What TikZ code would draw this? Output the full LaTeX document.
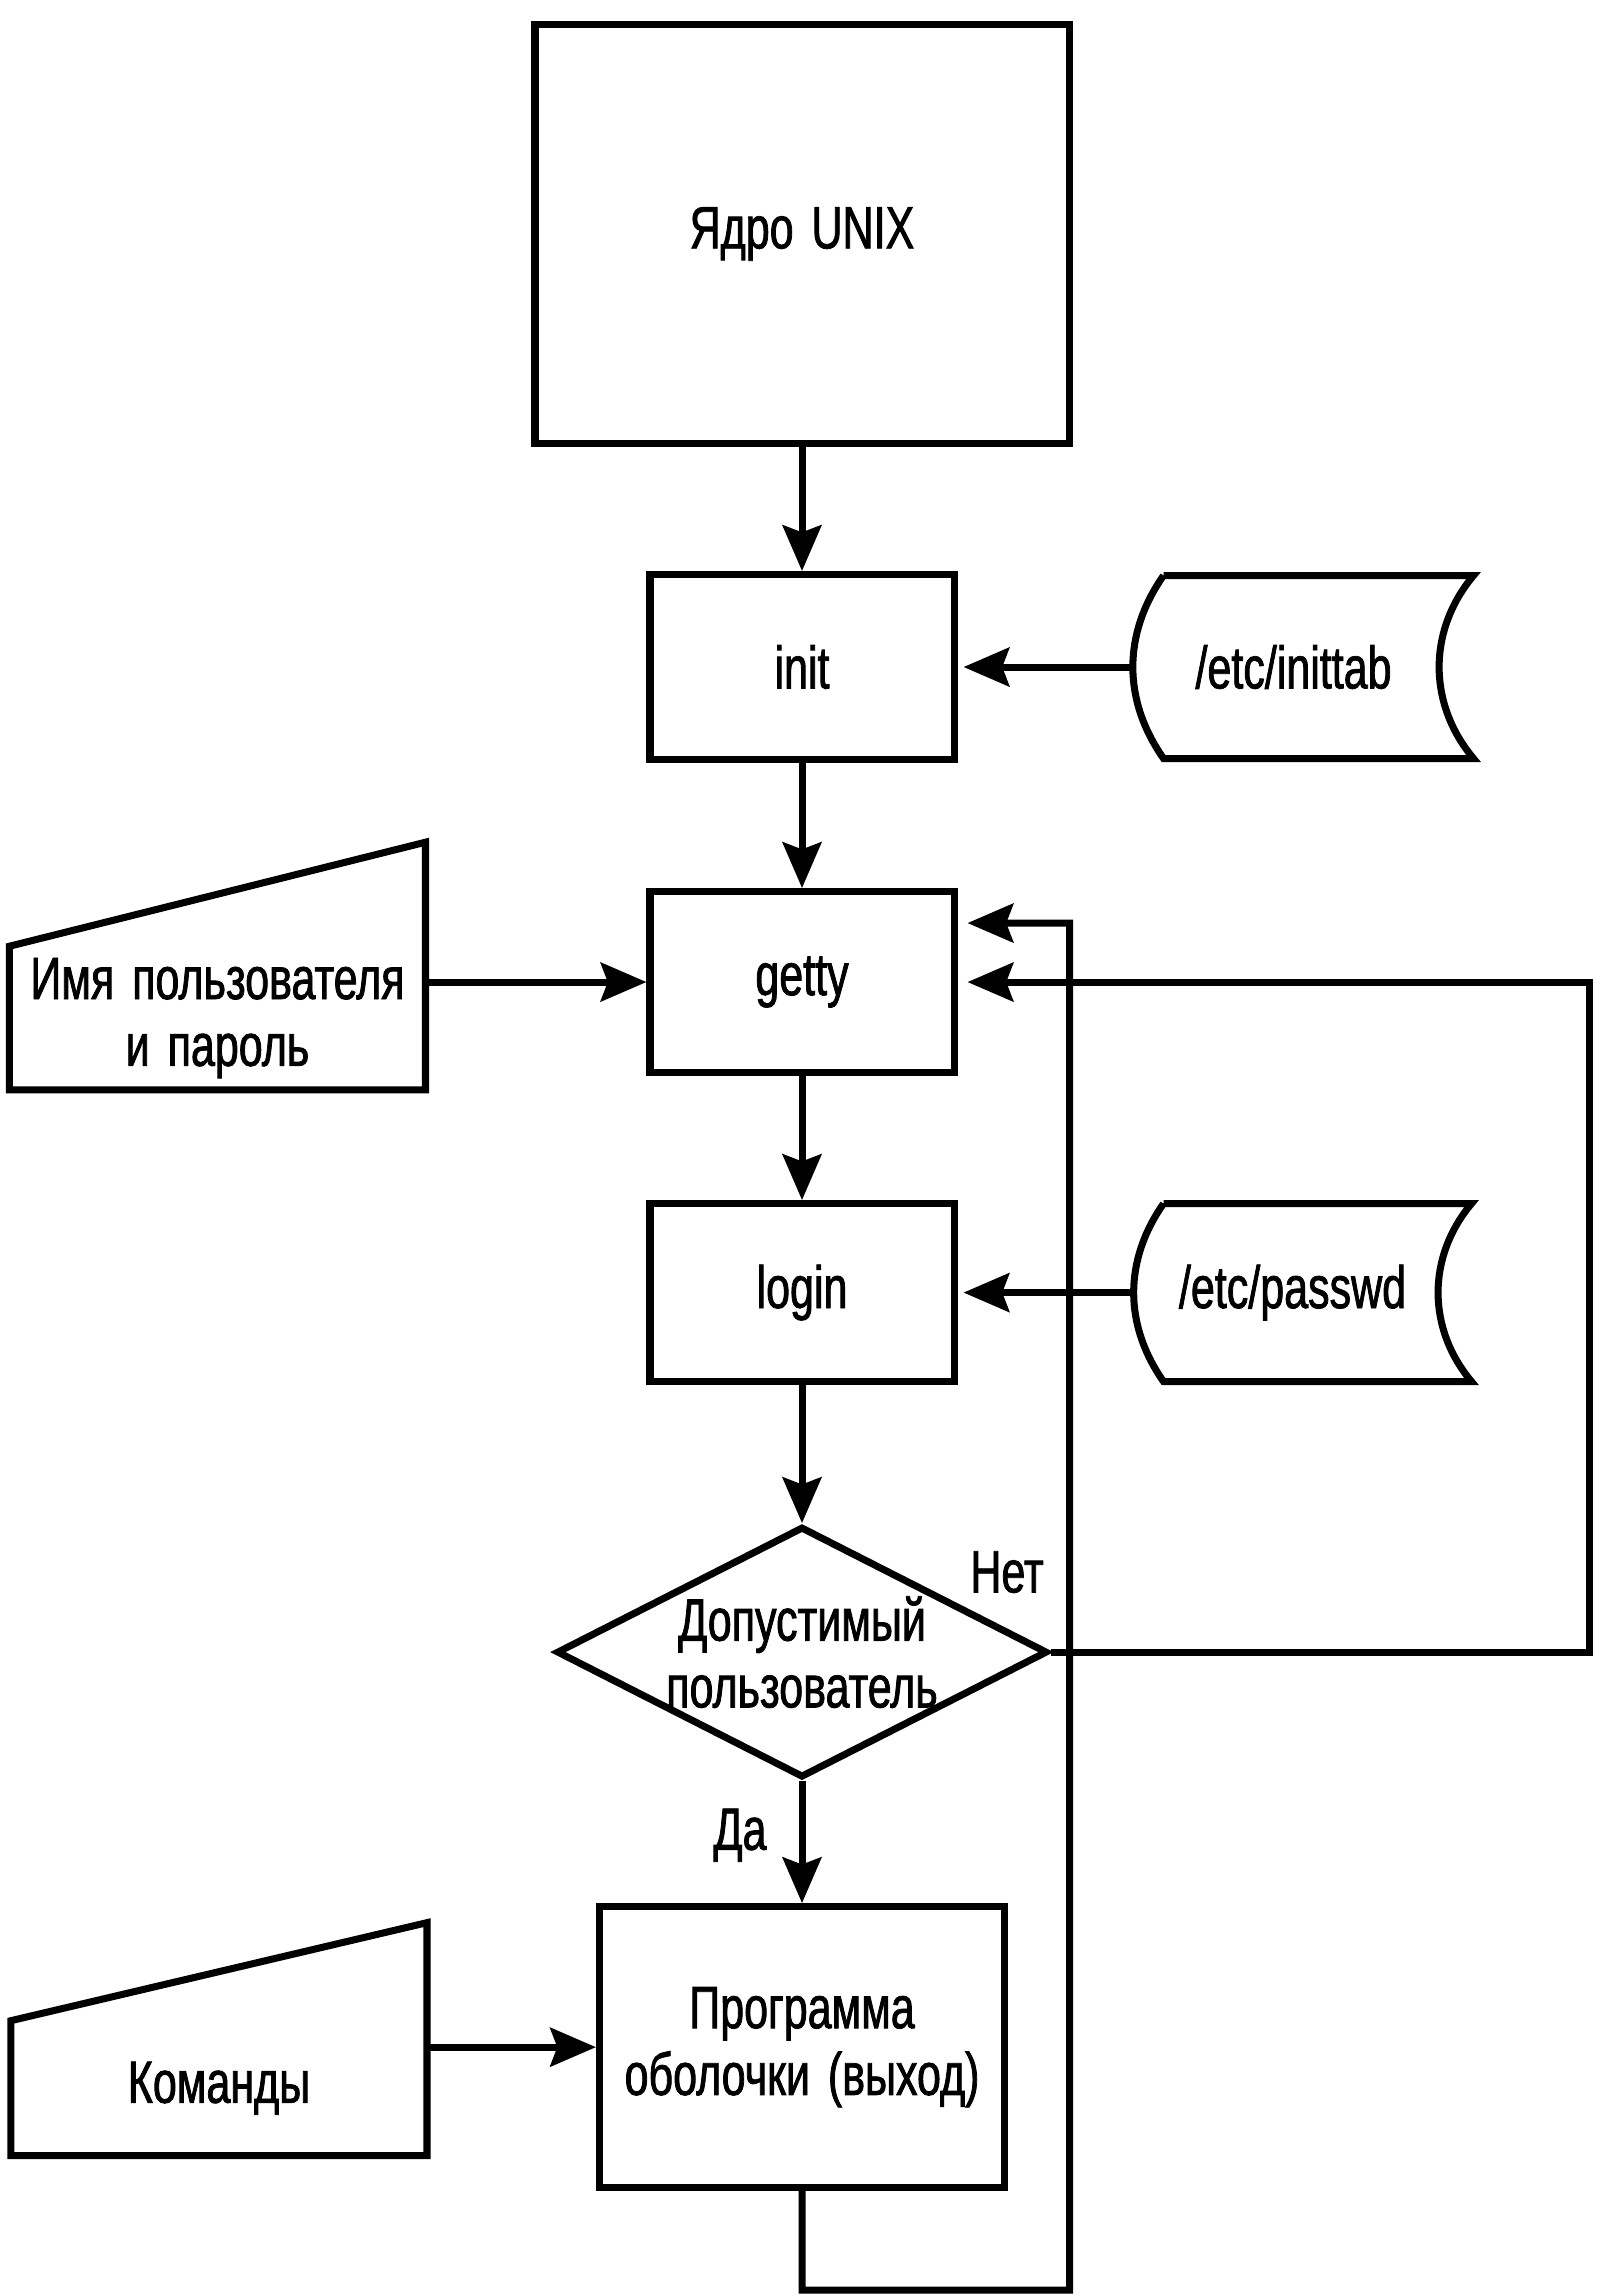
\documentclass[tikz,border=0pt]{standalone}
\usepackage{fontspec}
\setmainfont[FakeStretch=0.72,FakeBold=1.3,WordSpace=1.5]{Liberation Sans}
\usetikzlibrary{positioning,shapes.geometric,arrows.meta,calc}

\begin{document}
\begin{tikzpicture}[node distance=1.24cm, >={Stealth[length=13pt,width=11pt,inset=2pt]},
    line width=2pt, font=\fontsize{17}{19}\selectfont]
  \useasboundingbox (0,0) rectangle (15.96,-22.96);

  \node[draw, minimum width=5.34cm, minimum height=4.19cm] (kernel) at (8.02,-2.34) {Ядро UNIX};
  \node[draw, minimum width=3.04cm, minimum height=1.85cm, below=of kernel] (init) {init};
  \node[draw, minimum width=3.04cm, minimum height=1.81cm, below=1.25cm of init] (getty) {getty};
  \node[draw, minimum width=3.04cm, minimum height=1.78cm, below=of getty] (login) {login};
  \node[draw, diamond, aspect=1.96, inner sep=0pt, minimum width=4.91cm, minimum height=2.51cm,
        align=center, below=1.38cm of login] (check) {Допустимый\\пользователь};
  \node[draw, minimum width=4.05cm, minimum height=2.81cm, align=center, below=1.22cm of check] (shell) {Программа\\оболочки (выход)};

  % files
  \node[outer sep=0pt, minimum width=3.10cm, minimum height=1.83cm, right=2.06cm of init] (inittab) {\hspace*{-0.5cm}/etc/inittab};
  \node[outer sep=0pt, minimum width=3.08cm, minimum height=1.78cm, right=2.06cm of login] (passwd) {\hspace*{-0.5cm}/etc/passwd};
  \draw (inittab.north west) -- (inittab.north east) to[bend right=40] (inittab.south east)
        -- (inittab.south west) to[bend left=35] (inittab.north west);
  \draw (passwd.north west) -- (passwd.north east) to[bend right=40] (passwd.south east)
        -- (passwd.south west) to[bend left=35] (passwd.north west);

  % manual input
  \node[outer sep=0pt, minimum width=4.16cm, minimum height=1.33cm, align=center,
        left=2.21cm of getty, yshift=-0.36cm] (user) {Имя пользователя\\и пароль};
  \node[outer sep=0pt, minimum width=4.16cm, minimum height=1.35cm,
        left=1.69cm of shell, yshift=-0.41cm] (cmds) {Команды};
  \draw (user.south west) -- (user.north west) -- ([yshift=1.04cm]user.north east) -- (user.south east) -- cycle;
  \draw (cmds.south west) -- (cmds.north west) -- ([yshift=0.98cm]cmds.north east) -- (cmds.south east) -- cycle;

  \draw[->] (kernel) -- (init);
  \draw[->] (init) -- (getty);
  \draw[->] (getty) -- (login);
  \draw[->] (login) -- (check);
  \draw[->] (check) -- (shell);
  \draw[->, shorten >=0.06cm] ([xshift=-0.30cm]inittab.west) -- (init.east);
  \draw[->, shorten >=0.06cm] ([xshift=-0.30cm]passwd.west) -- (login.east);
  \draw[->] (getty.west -| user.east) -- (getty.west);
  \draw[->] (shell.west -| cmds.east) -- (shell.west);

  % loops back to getty
  \draw[->, shorten >=0.1cm] (check.east) -- ++(5.38,0) |- (getty.east);
  \draw[->, shorten >=0.1cm] (shell.south) -- ++(0,-0.99) -| ($(getty.east)+(1.12,0.59)$)
        -- ([yshift=0.59cm]getty.east);

  \node (no) at ($(check.east)+(-0.44,0.80)$) {Нет};
  \node (yes) at ($(check.south)+(-0.62,-0.54)$) {Да};
\end{tikzpicture}
\end{document}
